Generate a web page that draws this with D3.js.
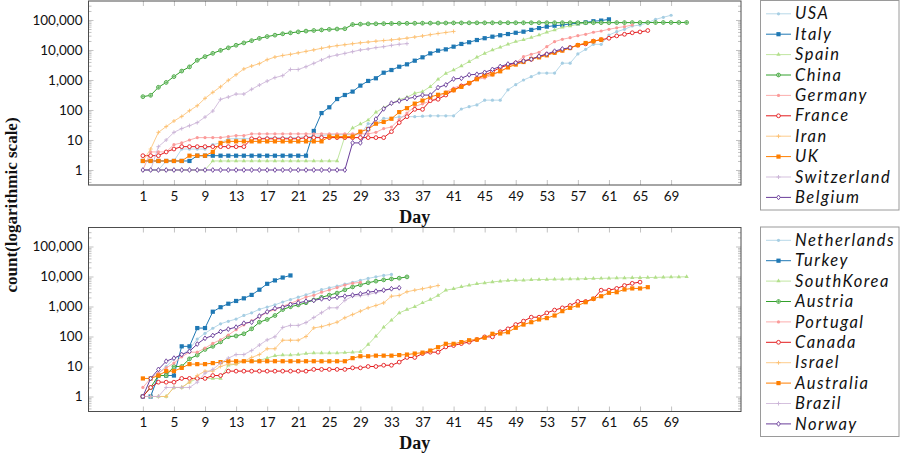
<!DOCTYPE html>
<html><head><meta charset="utf-8">
<script src="https://cdn.jsdelivr.net/npm/d3@7"></script>
<style>body{margin:0;background:#fff}svg{display:block}</style>
</head><body>
<script>
// ---------------- data ----------------
const xTicks = [1,5,9,13,17,21,25,29,33,37,41,45,49,53,57,61,65,69];
const yTicks = [1,10,100,1000,10000,100000];
const topNames = ["USA","Italy","Spain","China","Germany","France","Iran","UK","Switzerland","Belgium"];
const botNames = ["Netherlands","Turkey","SouthKorea","Austria","Portugal","Canada","Israel","Australia","Brazil","Norway"];
const colors = ["#a6cee3","#1f78b4","#b2df8a","#33a02c","#fb9a99","#e31a1c","#fdbf6f","#ff7f00","#cab2d6","#6a3d9a"];
const marks = ["circle","square","triangle","oplus","circle","ocircle","plus","square","plus","diamond"];

const usa = [1,1,1,2,2,5,5,5,5,7, 8,11,11,11,11,11,12,12,12,12, 12,13,13,14,15,15,15,15,15,
  35,35,53,53,59,60,60,62,64,64,64,64, 108,129,148,213,213,213,472,696,
  1000,1290,1700,1700,1700,3630,3630,7400,10500,15500,15500,31600,40700,49000,63000,67600,81300,105000,123000,144000];
const italy = [2,2,2,2,2,2,2, 3,3,3,3,3,3,3,3,3,3,3,3,3,3,3,
  20,79,123,232,316,410,650,930,1140,1750,2150,2770,3330,4400,5700,7700,9500,10500,12900,15900,18100,21500,24700,27800,31000,34000,37500,
  40700,46800,53700,60000,64600,67600,74000,77600,83000,91000,95500,105000];
const spain = [1,1,1,1,1,1,1,1,1, 2,2,2,2,2,2,2,2,2,2,2,2,2,2,2,2,2,
  13,25,34,46,84,120,165,222,265,363,410,600,1050,1660,2150,2950,4070,5700,7700,10000,12300,15500,19000,22000,26000,31600,39000,46800,57000,63000,72000,80000,85000];
const china = [278,309,571,830,1297,1985,2741,4537,5997,7736,9720,11821,14411,17238,20471,24363,28060,31211,34598,37251,40235,42708,44730,46550,48548,50054,51174,
  70635,72528,74280,74675,75569,76392,77042,77262,77780,78191,78630,78961,79394,79968,80174,80304,80422,80565,80711,80813,80859,80904,80924,80955,80981,81029,81062,81116,81220,81285,81340,81402,81498,81601,81747,81846,81960,82078,82213,82341,82447,82545,82631,82691];
const germany = [1,4,4,4,7,8,10,12,12,12,12,13,14,14, 16,16,16,16,16,16,16,16,16,16,16,16,16,16,16,16,
  18,24,27,48,79,130,160,196,262,400,540,670,800,1040,1176,1457,1908,2600,3700,
  6000,7200,8400,12900,19000,22700,25700,30000,33400,39000,43000,49000,55000,60000,68000];
const france = [3,3,3,4,5,6,6,6,6,6,6,6,6,6, 11,11,11,11,11,11,11, 12,12,12,12,12,12,12,12,12,12,12,
  19,38,60,105,105,204,228,316,464,630,775,1140,1470,1900,2570,3160,3700,4300,4900,6000,7200,8400,10000,12000,14500,16000,19800,22000,24600,29500,33400,37500,40000,44500];
const iran = [2,5,18,28,43,61,95,139,245,388,593,978,1501,2336,2922,3513,4747,5823,6566,7161,8042,9000,10075,11364,12729,13938,14991,16169,17361,18407,19644,20610,21638,23049,24811,27017,29406,32332,35408,38309,41495];
const uk = [2,2,2,2,2,2,3,3,3,4,8, 9,9,9,9,9,9,9,9,9,9,9,9,9, 13,13,13,13,
  19,23,35,40,51,85,115,163,206,273,321,373,456,590,797,1061,1391,1543,1950,2626,3269,3983,5018,5683,6650,8077,9529,11658,14543,17089,19522,22141];
const switzerland = [1,1,6,10,18,24,30,38,58,92,227,270,340,340,490,680,920,1200,1400,2240,2240,2770,3590,4640,6000,6800,7700,8800,10000,10800,12000,12900,14300,15500,16300];
const belgium = [1,1,1,1,1,1,1,1,1,1,1,1,1,1,1,1,1,1,1,1,1,1,1,1,1,1,1,
  8,8,23,50,109,169,200,239,267,314,314,559,689,1080,1140,1486,1550,1795,2257,2815,3401,3743,4269,4937,6235,7284,9134,10836,11899];

const netherlands = [1,1,6,10,18,24,38,82,128,188,265,321,382,503,614,804,959,1135,1413,1705,2051,2460,2994,3631,4204,4749,5560,6412,7431,8603,9762,10866,11750];
const turkey = [1,1,5,5,5,47,47,191,191,670,947,1236,1529,1872,2433,3629,5698,7402,9217,10827];
const southKorea = [1,1,1,1,2,2,3,4,4,4,4,11,12,15,15,16,19,23,24,24,25,27,28,28,28,28,29,30,31,
  54,102,204,350,610,790,980,1320,1700,2330,3500,3880,4530,5100,5700,6100,6600,7000,7300,7480,7513,7755,7869,7979,8086,8162,8236,8320,8413,8565,8652,8799,8897,8961,9037,9137,9241,9332,9478,9583,9661,9786];
const austria = [1,2,5,5,10,10,18,24,37,47,66,99,104,123,180,300,370,500,790,980,1130,1330,1650,2020,2400,2800,3600,4500,5300,6200,7000,7700,8300,8800,9700];
const portugal = [2,4,6,9,13,21,30,30,41,59,78,112,169,245,331,448,642,785,1020,1280,1600,2060,2362,2995,3544,4268,5170,5962,6408];
const canada = [1,2,3,3,3,4,4,4,4,5,5, 7,7,7,7,7,7,7,7,7,7,7, 8,8,8,8,8, 9,9,10,10,11,11,
  14,20,20,27,30,30,45,50,58,65,79,97,97,143,180,250,325,440,440,610,760,900,1080,1470,1470,1800,3500,3500,4000,5000,5900,6500];
const israel = [1,1,1,1,2,2,3,5,7,7,10,12,12,15,20,25,39,39,75,75,75,100,193,213,250,300,420,540,700,900,1080,1320,2200,2330,3100,3500,3900,4400,5000];
const australia = [4,4,5,7,7,9,12,12,12,13,14, 15,15,15,15,15,15,15,15,15,15,15,15,15,15,15,15,
  19,22,22,23,23,23,24,25,27,29,34,44,57,57,65,75,79,91,123,126,139,195,250,300,370,410,500,700,900,1080,1390,1800,2200,2860,3000,3700,4000,4000,4400];
const brazil = [1,1,1,2,2,2,2,3,6,8,13,19,25,25,34,52,77,98,200,234,234,291,428,621,904,904,1600,2200,2300,2500,2900,3300,3900];
const norway = [1,4,8,15,19,25,32,56,87,108,147,176,205,277,300,480,665,860,950,1170,1320,1500,1590,1800,1850,2040,2200,2400,2640,3000,3240,3500,3900,4200];

const topSeries = [usa,italy,spain,china,germany,france,iran,uk,switzerland,belgium];
const botSeries = [netherlands,turkey,southKorea,austria,portugal,canada,israel,australia,brazil,norway];

// ---------------- drawing ----------------
const W = 900, H = 458;
const svg = d3.select("body").append("svg").attr("width", W).attr("height", H);
const X0 = 88.5, X1 = 741, PH = 184;
const x = d3.scaleLinear().domain([-6, 78]).range([X0, X1]);
const frameColor = "#4d4d4d", tickColor = "#b3b3b3";
const tickFont = "Lato, 'DejaVu Sans', sans-serif";

function minorVals() {
  const v = [];
  for (let e = -1; e <= 5; e++) for (let m = 2; m <= 9; m++) {
    const t = m * Math.pow(10, e);
    if (t > 0.33 && t < 4e5) v.push(t);
  }
  return v;
}

function marker(g, type, color, cx, cy) {
  if (type === "circle") {
    g.append("circle").attr("cx", cx).attr("cy", cy).attr("r", 1.6).attr("fill", color);
  } else if (type === "ocircle") {
    g.append("circle").attr("cx", cx).attr("cy", cy).attr("r", 1.9).attr("fill", "#fff").attr("stroke", color).attr("stroke-width", 0.9);
  } else if (type === "oplus") {
    g.append("circle").attr("cx", cx).attr("cy", cy).attr("r", 1.9).attr("fill", "#fff").attr("stroke", color).attr("stroke-width", 0.8);
    g.append("path").attr("d", `M${cx-1.8},${cy}h3.6M${cx},${cy-1.8}v3.6`).attr("stroke", color).attr("stroke-width", 0.6);
  } else if (type === "square") {
    g.append("rect").attr("x", cx - 2.1).attr("y", cy - 2.1).attr("width", 4.2).attr("height", 4.2).attr("fill", color);
  } else if (type === "triangle") {
    g.append("path").attr("d", d3.symbol(d3.symbolTriangle, 8)()).attr("transform", `translate(${cx},${cy})`).attr("fill", color);
  } else if (type === "diamond") {
    g.append("path").attr("d", `M${cx},${cy-2.4}L${cx+1.8},${cy}L${cx},${cy+2.4}L${cx-1.8},${cy}Z`).attr("fill", "#fff").attr("stroke", color).attr("stroke-width", 0.9);
  } else if (type === "plus") {
    g.append("path").attr("d", `M${cx-2},${cy}h4M${cx},${cy-2}v4`).attr("stroke", color).attr("stroke-width", 0.9);
  }
}

function panel(top, names, series, dayLabelY) {
  const y = d3.scaleLog().domain([Math.pow(10, -0.5), Math.pow(10, 5.633)]).range([top + PH, top]);
  const g = svg.append("g");
  const styleAxis = sel => { sel.select(".domain").remove(); sel.selectAll(".tick line").attr("stroke", tickColor).attr("stroke-width", 0.8); };
  g.append("g").attr("transform", `translate(0,${top + PH})`)
    .call(d3.axisBottom(x).tickValues(xTicks).tickSize(-5).tickPadding(6))
    .call(styleAxis)
    .call(a => a.selectAll("text").attr("font-family", tickFont).attr("font-size", 13.5).attr("fill", "#111"));
  g.append("g").attr("transform", `translate(0,${top})`)
    .call(d3.axisTop(x).tickValues(xTicks).tickSize(-5).tickFormat(""))
    .call(styleAxis);
  g.append("g").attr("transform", `translate(${X0},0)`)
    .call(d3.axisLeft(y).tickValues(yTicks).tickSize(-5).tickPadding(6).tickFormat(d3.format(",")))
    .call(styleAxis)
    .call(a => a.selectAll("text").attr("font-family", tickFont).attr("font-size", 13.5).attr("fill", "#111"));
  g.append("g").attr("transform", `translate(${X0},0)`)
    .call(d3.axisLeft(y).tickValues(minorVals()).tickSize(-3).tickFormat(""))
    .call(styleAxis);
  g.append("g").attr("transform", `translate(${X1},0)`)
    .call(d3.axisRight(y).tickValues(yTicks).tickSize(-5).tickFormat(""))
    .call(styleAxis);
  g.append("g").attr("transform", `translate(${X1},0)`)
    .call(d3.axisRight(y).tickValues(minorVals()).tickSize(-3).tickFormat(""))
    .call(styleAxis);

  const line = d3.line().x(d => x(d[0])).y(d => y(d[1]));
  series.forEach((arr, i) => {
    const pts = arr.map((v, k) => [k + 1, v]);
    const sg = g.append("g");
    const light = i % 2 === 0;
    sg.append("path").datum(pts).attr("d", line).attr("fill", "none")
      .attr("stroke", colors[i]).attr("stroke-width", 1).attr("stroke-opacity", light ? 0.8 : 1);
    pts.forEach(p => marker(sg, marks[i], colors[i], x(p[0]), y(p[1])));
  });

  g.append("rect").attr("x", X0).attr("y", top).attr("width", X1 - X0).attr("height", PH)
    .attr("fill", "none").attr("stroke", frameColor).attr("stroke-width", 1);

  g.append("text").attr("x", (X0 + X1) / 2).attr("y", dayLabelY).attr("text-anchor", "middle")
    .attr("font-family", "'Liberation Serif', 'DejaVu Serif', serif").attr("font-weight", "bold").attr("font-size", 18)
    .attr("fill", "#111").text("Day");

  // legend
  const lg = svg.append("g");
  lg.append("rect").attr("x", 760.5).attr("y", top - 0.5).attr("width", 138.5).attr("height", 209.5)
    .attr("fill", "#fff").attr("stroke", "#9a9a9a").attr("stroke-width", 1);
  names.forEach((n, i) => {
    const cy = top + 12.8 + i * 20.4;
    const light = i % 2 === 0;
    lg.append("line").attr("x1", 766).attr("x2", 791).attr("y1", cy).attr("y2", cy)
      .attr("stroke", colors[i]).attr("stroke-width", 1).attr("stroke-opacity", light ? 0.8 : 1);
    marker(lg, marks[i], colors[i], 778.5, cy);
    lg.append("text").attr("x", 795).attr("y", cy + 5.6)
      .attr("font-family", "Lato, 'DejaVu Sans', sans-serif").attr("font-style", "italic")
      .attr("font-size", 16.5).attr("letter-spacing", "1.5px").attr("fill", "#111").text(n);
  });
}

panel(1, topNames, topSeries, 222.5);
panel(227.5, botNames, botSeries, 448.5);

svg.append("text").attr("transform", "translate(17,205) rotate(-90)").attr("text-anchor", "middle")
  .attr("font-family", "'Liberation Serif', 'DejaVu Serif', serif").attr("font-weight", "bold").attr("font-size", 17)
  .attr("fill", "#111").text("count(logarithmic scale)");
</script>
</body></html>
